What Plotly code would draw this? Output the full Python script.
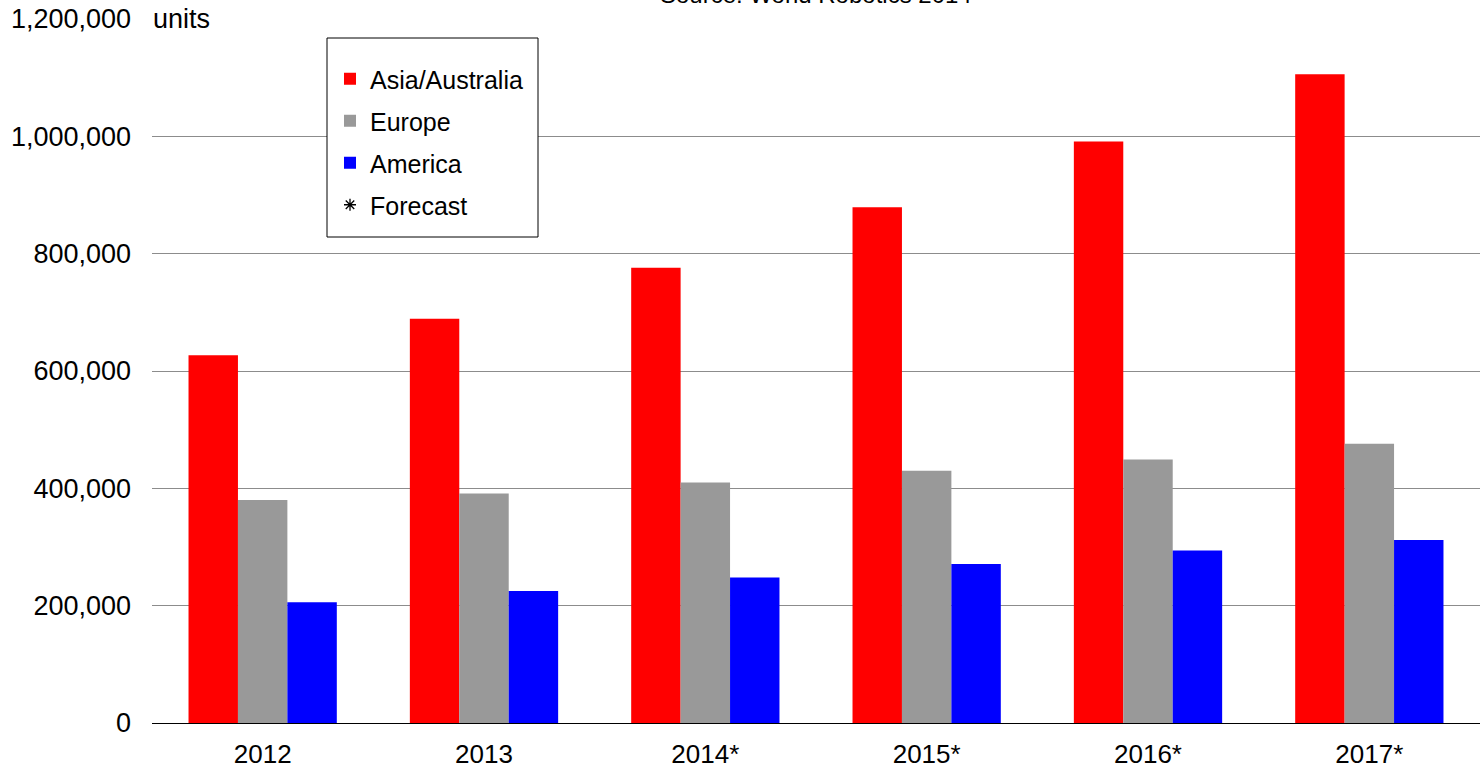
import plotly.graph_objects as go

years = ["2012", "2013", "2014*", "2015*", "2016*", "2017*"]
asia = [627000, 689000, 776000, 879000, 991000, 1106000]
europe = [380000, 391000, 410000, 430000, 449000, 476000]
america = [206000, 225000, 248000, 271000, 294000, 312000]
tick_vals = [0, 200000, 400000, 600000, 800000, 1000000, 1200000]
tick_text = ["0", "200,000", "400,000", "600,000", "800,000", "1,000,000", "1,200,000"]

FONT = "Liberation Sans, Arial, sans-serif"
L, T, PW, PH = 152, 19, 1328, 704


def px_x(x):
    return (x - L) / PW


def px_y(y):
    return (T + PH - y) / PH


fig = go.Figure()
fig.add_trace(go.Bar(x=years, y=asia, name="Asia/Australia", marker_color="#FF0000",
                     marker_line_width=0, legendgroup="a"))
fig.add_trace(go.Bar(x=years, y=europe, name="Europe", marker_color="#999999",
                     marker_line_width=0, legendgroup="b"))
fig.add_trace(go.Bar(x=years, y=america, name="America", marker_color="#0000FF",
                     marker_line_width=0, legendgroup="c"))
fig.add_trace(go.Scatter(x=[None], y=[None], mode="markers", name="Forecast",
                         marker=dict(symbol="asterisk-open", size=10, color="black",
                                     line=dict(color="black", width=1.3)),
                         legendgroup="d"))

fig.update_layout(
    width=1480, height=768,
    margin=dict(l=L, r=0, t=T, b=768 - T - PH, autoexpand=False),
    paper_bgcolor="white", plot_bgcolor="white",
    font=dict(family=FONT, size=25, color="black"),
    barmode="group", bargap=0.33, bargroupgap=0,
    showlegend=True,
    legend=dict(x=px_x(330), y=px_y(56), xanchor="left", yanchor="top",
                borderwidth=0, bgcolor="rgba(0,0,0,0)",
                font=dict(family=FONT, size=25, color="black"),
                tracegroupgap=6.5, traceorder="grouped"),
    xaxis=dict(showgrid=False, showline=True, linecolor="black", linewidth=1,
               ticks="", tickfont=dict(size=26), ticklabelstandoff=8, automargin=False),
    yaxis=dict(range=[0, 1200000], tickvals=tick_vals, ticktext=tick_text,
               showgrid=True, gridcolor="#8c8c8c", gridwidth=1, zeroline=False,
               showline=False, ticks="", tickfont=dict(size=27), ticklabelstandoff=20,
               automargin=False),
    shapes=[
        dict(type="rect", xref="paper", yref="paper",
             x0=px_x(327), x1=px_x(538), y0=px_y(237), y1=px_y(38),
             line=dict(color="black", width=1), fillcolor="white", layer="above"),
    ],
    annotations=[
        dict(text="units", xref="paper", yref="paper", x=0, y=1, xanchor="left",
             yanchor="middle", showarrow=False, bgcolor="white", width=70, align="left",
             borderpad=0, font=dict(size=27)),
        dict(text="Source: World Robotics 2014", xref="paper", yref="paper", x=0.5,
             y=px_y(10), xanchor="center", yanchor="bottom", showarrow=False,
             font=dict(size=24)),
    ],
)

fig.write_html("out.html")
